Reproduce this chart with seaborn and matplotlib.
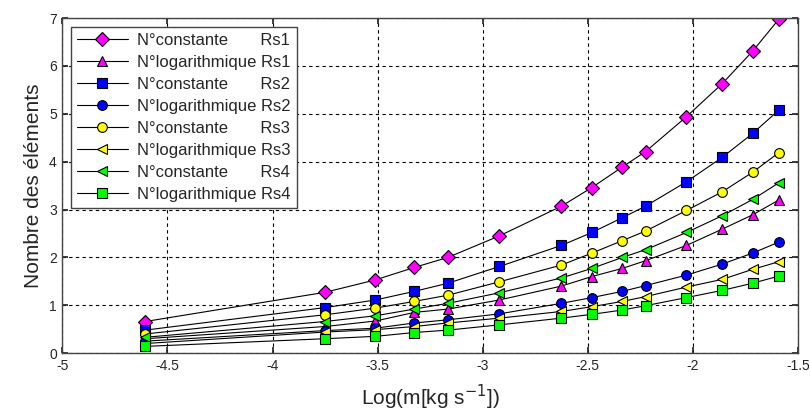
import numpy as np
import pandas as pd
import matplotlib
matplotlib.use("Agg")
import matplotlib.pyplot as plt
import seaborn as sns

sns.set_theme(style="ticks")
plt.rcParams['font.family'] = ['Liberation Sans', 'DejaVu Sans']

# ---- data ----
log_m = [-4.605, -3.75, -3.51, -3.325, -3.165, -2.92, -2.625, -2.48,
         -2.335, -2.225, -2.03, -1.86, -1.715, -1.59]

const_rs1 = [0.66, 1.27, 1.53, 1.79, 2.00, 2.45, 3.07, 3.46, 3.89, 4.21, 4.94, 5.63, 6.31, 6.98]
log_rs1 = [0.30, 0.555, 0.67, 0.85, 0.92, 1.11, 1.40, 1.60, 1.77, 1.93, 2.25, 2.59, 2.89, 3.20]
const_rs2 = [0.48, 0.95, 1.11, 1.29, 1.46, 1.81, 2.25, 2.52, 2.83, 3.07, 3.58, 4.09, 4.59, 5.08]
log_rs2 = [0.25, 0.47, 0.52, 0.63, 0.695, 0.82, 1.04, 1.16, 1.29, 1.41, 1.63, 1.86, 2.09, 2.32]
const_rs3 = [0.40, 0.80, 0.94, 1.08, 1.21, 1.49, 1.84, 2.09, 2.35, 2.55, 2.98, 3.37, 3.78, 4.19]
log_rs3 = [0.20, 0.44, 0.49, 0.555, 0.63, 0.73, 0.87, 0.97, 1.08, 1.18, 1.38, 1.54, 1.75, 1.91]
const_rs4 = [0.33, 0.66, 0.78, 0.92, 1.04, 1.26, 1.57, 1.77, 2.00, 2.16, 2.52, 2.87, 3.21, 3.56]
log_rs4 = [0.14, 0.30, 0.35, 0.43, 0.48, 0.59, 0.73, 0.81, 0.90, 0.99, 1.16, 1.31, 1.46, 1.61]

labels = ["N°constante       Rs1", "N°logarithmique Rs1",
          "N°constante       Rs2", "N°logarithmique Rs2",
          "N°constante       Rs3", "N°logarithmique Rs3",
          "N°constante       Rs4", "N°logarithmique Rs4"]
series = [const_rs1, log_rs1, const_rs2, log_rs2, const_rs3, log_rs3, const_rs4, log_rs4]
markers = ["D", "^", "s", "o", "o", "<", "<", "s"]
colors = ["#ff00ff", "#ff00ff", "#0000ff", "#0000ff", "#ffff00", "#ffff00", "#00ff00", "#00ff00"]

fig, ax = plt.subplots(figsize=(8.1, 4.12), dpi=100)
fig.subplots_adjust(left=0.077, right=0.985, top=0.956, bottom=0.143)

for y, lab, mk, col in zip(series, labels, markers, colors):
    sns.lineplot(x=log_m, y=y, ax=ax, label=lab, color="black", linewidth=0.8,
                 marker=mk, markersize=7, markerfacecolor=col,
                 markeredgecolor="black", markeredgewidth=0.8)

ax.set_xlim(-5, -1.5)
ax.set_ylim(0, 7)
ax.set_xticks(np.arange(-5, -1.49, 0.5))
ax.set_xticklabels(["-5", "-4.5", "-4", "-3.5", "-3", "-2.5", "-2", "-1.5"])
ax.set_yticks(range(0, 8))
ax.tick_params(direction="in", top=True, right=True, labelsize=10, length=4, pad=4)
ax.grid(True, color="black", linestyle=(0, (3, 3)), linewidth=0.8)
for sp in ax.spines.values():
    sp.set_color("#444444")
    sp.set_linewidth(1)

ax.set_xlabel("Log(m[kg s$^{-1}$])", fontsize=15, labelpad=7)
ax.set_ylabel("Nombre des éléments", fontsize=15)

leg = ax.legend(loc="upper left", bbox_to_anchor=(0.0, 0.997), fontsize=12,
                handlelength=3.1, labelspacing=0.42, borderpad=0.35,
                fancybox=False, framealpha=1, edgecolor="#444444", handletextpad=0.55)
leg.get_frame().set_linewidth(1)

fig.savefig("out.png", dpi=100, facecolor="white")
